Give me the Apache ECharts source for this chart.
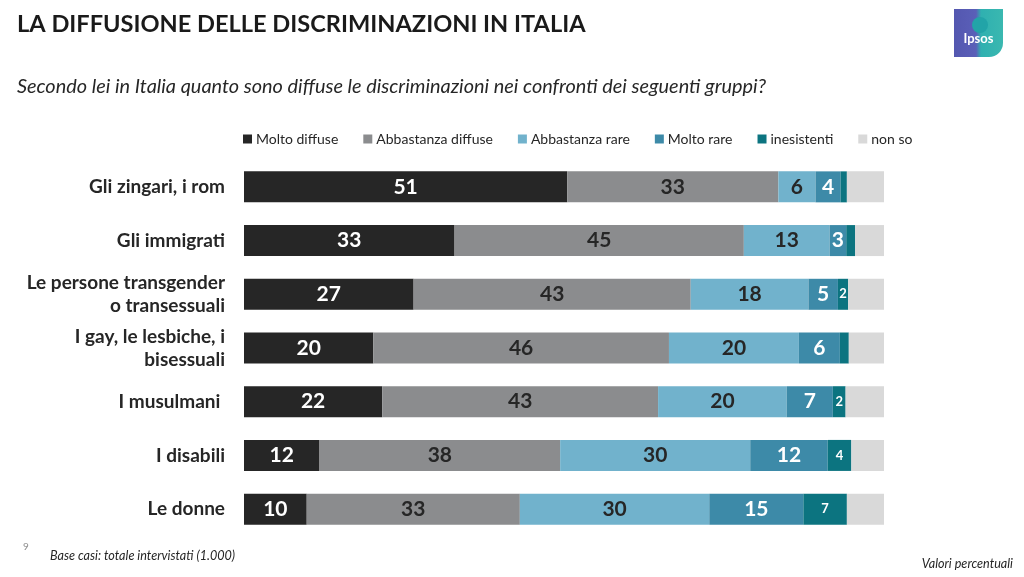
<!DOCTYPE html>
<html><head><meta charset="utf-8">
<script src="https://cdn.jsdelivr.net/npm/echarts@6/dist/echarts.min.js"></script>
<style>html,body{margin:0;padding:0;background:#fff}#c{width:1024px;height:577px}</style>
</head><body><div id="c"></div>
<script>
const categories = ["Gli zingari, i rom","Gli immigrati","Le persone transgender\no transessuali","I gay, le lesbiche, i\nbisessuali","I musulmani ","I disabili","Le donne"];
const seriesNames = ["Molto diffuse","Abbastanza diffuse","Abbastanza rare","Molto rare","inesistenti","non so"];
const moltoDiffuse     = [50.5, 32.9, 26.5, 20.2, 21.6, 11.8, 9.8];
const abbastanzaDiffuse= [33.0, 45.2, 43.3, 46.2, 43.1, 37.6, 33.3];
const abbastanzaRare   = [5.8, 13.4, 18.4, 20.3, 20.1, 29.7, 29.6];
const moltoRare        = [3.9, 2.6, 4.6, 6.4, 7.2, 12.1, 14.7];
const inesistenti      = [1.0, 1.4, 1.6, 1.4, 2.0, 3.7, 6.8];
const nonSo            = [5.8, 4.5, 5.6, 5.5, 6.0, 5.1, 5.8];
// which labels are shown (as in the picture)
const showInesistenti  = [false, false, true, false, true, true, true];

const FONT = 'Lato';
const colors = ['#262626','#8b8c8e','#71b2cc','#3d8aa8','#0c7480','#d9d9d9'];
const labelColors = ['#ffffff','#262626','#262626','#ffffff','#ffffff','#262626'];
const dataSets = [moltoDiffuse, abbastanzaDiffuse, abbastanzaRare, moltoRare, inesistenti, nonSo];

const series = dataSets.map((d, i) => ({
  name: seriesNames[i],
  type: 'bar',
  stack: 'tot',
  barWidth: 31,
  itemStyle: { color: colors[i] },
  emphasis: { disabled: true },
  data: d.map((v, j) => ({
    value: v,
    label: {
      show: i === 5 ? false : (i === 4 ? showInesistenti[j] : true),
      position: 'inside',
      color: labelColors[i],
      fontFamily: FONT,
      fontWeight: 'bold',
      fontSize: i === 4 ? 13 : 21,
      formatter: p => Math.round(p.value)
    }
  }))
}));

const chart = echarts.init(document.getElementById('c'), null, {renderer: 'canvas'});
chart.setOption({
  animation: false,
  backgroundColor: '#ffffff',
  title: [
    { text: 'LA DIFFUSIONE DELLE DISCRIMINAZIONI IN ITALIA', left: 17, top: 12, padding: 0,
      textStyle: { fontFamily: FONT, fontSize: 23.6, fontWeight: 'bold', color: '#1a1a1a' } },
    { text: 'Secondo lei in Italia quanto sono diffuse le discriminazioni nei confronti dei seguenti gruppi?', left: 17, top: 77, padding: 0,
      textStyle: { fontFamily: FONT, fontSize: 19.9, fontStyle: 'italic', fontWeight: 'normal', color: '#262626' } }
  ],
  legend: {
    left: 238, top: 127,
    itemWidth: 9, itemHeight: 9, itemGap: 25,
    icon: 'rect',
    data: seriesNames,
    textStyle: { fontFamily: FONT, fontSize: 14, color: '#262626', padding: [0,0,0,-1] },
    selectedMode: false
  },
  grid: { left: 244, right: 140, top: 160, bottom: 41, containLabel: false },
  xAxis: { type: 'value', min: 0, max: 100, show: false },
  yAxis: {
    type: 'category', data: categories, inverse: true,
    axisLine: { show: false }, axisTick: { show: false },
    axisLabel: { margin: 19, fontFamily: FONT, fontSize: 19, fontWeight: 'bold', color: '#262626', align: 'right', lineHeight: 23 }
  },
  series: series,
  graphic: [
    { type: 'group', left: 954, top: 9, children: [
      { type: 'rect', shape: { x: 0, y: 0, width: 49, height: 48, r: [0,0,14,0] },
        style: { fill: new echarts.graphic.LinearGradient(0,0,1,0,[{offset:0,color:'#5457b0'},{offset:0.45,color:'#5a5fb8'},{offset:0.55,color:'#2fb0b0'},{offset:1,color:'#3ab8b0'}]) } },
      { type: 'circle', shape: { cx: 26, cy: 16, r: 8 }, style: { fill: '#22a4a8' } },
      { type: 'text', style: { x: 24.5, y: 30, text: 'Ipsos', fill: '#ffffff', font: 'bold 13px Lato', textAlign: 'center', textVerticalAlign: 'middle' } }
    ]},
    { type: 'text', left: 23, top: 542, style: { text: '9', fill: '#8c8c8c', font: '10px Lato' } },
    { type: 'text', left: 50, top: 549, style: { text: 'Base casi: totale intervistati (1.000)', fill: '#262626', font: 'italic 12.6px Lato' } },
    { type: 'text', right: 11, top: 557, style: { text: 'Valori percentuali', fill: '#262626', font: 'italic 12.6px Lato' } }
  ]
});
</script></body></html>
